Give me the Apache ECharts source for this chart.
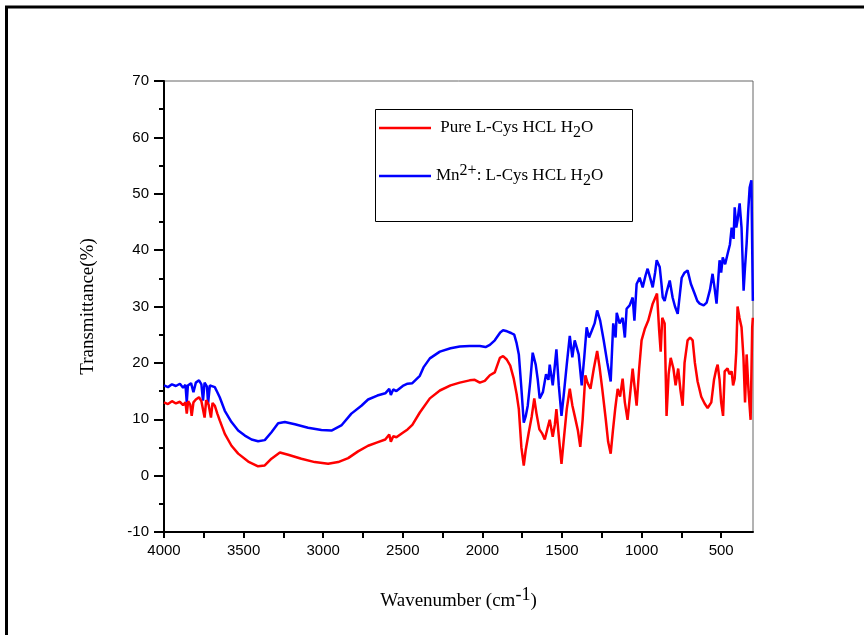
<!DOCTYPE html>
<html>
<head>
<meta charset="utf-8">
<script src="https://cdn.jsdelivr.net/npm/echarts@6/dist/echarts.min.js"></script>
<style>html,body{margin:0;padding:0;background:#fff}#c{width:864px;height:635px}</style>
</head>
<body>
<div id="c"></div>
<script>
// ---- Data ----
const seriesNames = ['Pure L-Cys HCL H2O', 'Mn2+: L-Cys HCL H2O'];
const xLabelValues = [500, 1000, 1500, 2000, 2500, 3000, 3500, 4000];
const xTickValues = [500, 750, 1000, 1250, 1500, 1750, 2000, 2250, 2500, 2750, 3000, 3250, 3500, 3750, 4000];

const wnPure = [4000,3975,3950,3925,3900,3880,3865,3857,3848,3835,3826,3815,3800,3780,3765,3745,3735,3720,3705,3695,3681,3665,3650,3618,3576,3534,3471,3409,3367,3325,3272,3220,3137,3053,2969,2906,2843,2781,2718,2660,2610,2585,2575,2560,2540,2500,2470,2440,2393,2330,2267,2200,2142,2080,2048,2016,1985,1953,1922,1890,1870,1847,1825,1803,1785,1771,1755,1740,1728,1709,1690,1674,1660,1642,1625,1608,1590,1577,1558,1545,1535,1520,1503,1490,1470,1451,1435,1420,1400,1385,1370,1353,1340,1321,1300,1279,1265,1247,1225,1210,1194,1180,1165,1150,1135,1119,1105,1088,1070,1056,1045,1031,1015,1000,980,958,930,903,890,880,870,855,843,830,817,800,786,770,755,742,730,711,695,679,665,648,625,604,585,562,545,530,522,510,500,488,478,460,448,434,425,415,405,397,385,372,360,350,340,328,315,305,301];
const tPure = [13.0,12.7,13.2,12.8,13.1,12.5,13.0,11.0,13.2,12.6,10.6,13.0,13.5,13.9,13.2,10.3,13.4,12.6,10.3,12.9,12.4,11.0,9.8,7.4,5.3,3.9,2.5,1.65,1.8,3.0,4.1,3.7,3.0,2.4,2.1,2.4,3.1,4.3,5.3,5.9,6.4,7.3,6.0,7.0,6.8,7.6,8.2,9.0,11.2,13.7,15.1,16.0,16.5,16.9,17.0,16.5,16.8,17.8,18.3,20.9,21.2,20.6,19.5,17.2,14.5,11.8,5.0,1.8,4.5,7.6,10.5,13.7,11.0,8.2,7.5,6.4,8.5,9.9,6.9,9.0,11.8,7.0,2.1,6.0,11.8,15.4,12.5,10.6,8.0,5.1,10.0,17.8,16.5,15.4,19.0,22.1,19.5,15.4,10.0,6.0,3.9,8.0,12.0,15.4,14.0,17.2,13.0,9.9,15.0,19.0,16.0,12.4,19.0,24.0,26.0,27.5,30.5,32.3,26.0,22.0,28.0,27.0,10.6,18.0,20.9,19.0,16.0,19.0,15.0,12.4,20.0,24.0,24.5,24.0,20.0,16.7,14.0,12.8,12.0,13.0,17.0,19.0,19.7,17.0,13.0,10.6,18.5,19.0,18.0,18.5,16.0,17.2,22.0,30.0,28.0,26.3,21.0,13.0,21.5,15.0,9.9,26.3,28.0];

const wnMn = [4000,3975,3950,3925,3900,3880,3865,3857,3850,3830,3815,3800,3780,3765,3755,3745,3730,3723,3712,3700,3681,3665,3650,3618,3576,3534,3492,3450,3409,3367,3325,3283,3241,3178,3095,3011,2948,2886,2823,2760,2718,2660,2610,2585,2575,2560,2540,2500,2470,2440,2393,2370,2330,2267,2200,2142,2080,2016,1980,1953,1922,1888,1870,1845,1820,1800,1785,1771,1755,1740,1728,1715,1700,1684,1665,1652,1640,1620,1600,1585,1577,1558,1545,1535,1520,1503,1490,1470,1451,1435,1420,1395,1376,1360,1345,1330,1313,1295,1279,1260,1238,1215,1194,1178,1163,1156,1138,1119,1105,1094,1075,1056,1045,1031,1012,993,975,962,945,930,915,905,886,875,867,855,843,823,805,790,773,760,748,730,711,690,667,650,635,610,591,570,554,540,529,518,510,500,490,475,459,445,434,422,415,405,397,384,372,359,350,340,330,321,310,304,301];
const tMn = [16.0,15.7,16.2,15.9,16.3,15.6,16.1,13.0,16.0,16.4,14.8,16.5,16.9,16.2,13.3,16.5,15.8,12.8,16.0,15.9,15.7,14.8,13.9,11.5,9.5,8.0,7.1,6.4,6.1,6.3,7.7,9.3,9.5,9.1,8.5,8.1,8.0,8.9,11.0,12.4,13.5,14.2,14.6,15.4,14.3,15.3,15.0,15.9,16.3,16.4,17.7,19.2,20.8,22.0,22.6,22.9,23.0,23.0,22.8,23.2,24.0,25.4,25.8,25.6,25.3,25.0,23.5,21.5,15.5,9.4,10.5,12.4,16.5,21.8,19.7,17.0,13.7,14.8,18.0,17.0,19.7,16.0,19.5,22.4,16.0,10.6,14.0,19.7,24.8,21.0,24.0,21.5,16.0,21.0,26.3,24.5,25.7,27.0,29.3,27.5,24.0,20.0,16.7,27.0,24.5,28.9,27.0,28.0,24.5,29.6,30.2,31.6,27.5,34.0,35.1,33.4,35.5,36.7,35.0,33.4,36.0,38.2,37.0,34.0,31.6,31.0,32.5,34.6,31.6,30.0,28.7,32.0,35.1,36.0,36.4,34.0,32.3,31.0,30.5,30.2,30.7,33.0,35.8,33.0,30.5,35.0,38.2,36.0,38.7,37.5,39.4,41.0,44.0,42.0,47.6,44.0,45.3,48.3,44.0,32.8,37.0,41.2,47.0,51.1,52.4,52.5,31.0];

const toPairs = (xs, ys) => xs.map((x, i) => [x, ys[i]]);

const serif = '"Liberation Serif","Times New Roman",serif';
const sans = '"Liberation Sans",Arial,sans-serif';

const chart = echarts.init(document.getElementById('c'), null, {renderer: 'canvas'});

const legendRich = {
  n: {fontFamily: serif, fontSize: 17, color: '#000', lineHeight: 20},
  sub: {fontFamily: serif, fontSize: 16, color: '#000', lineHeight: 16, padding: [10, 0, 0, 0]},
  sup: {fontFamily: serif, fontSize: 16, color: '#000', lineHeight: 16, padding: [0, 0, 10, 0]}
};

chart.setOption({
  animation: false,
  backgroundColor: '#fff',
  grid: {left: 164, top: 81, width: 589, height: 451, show: true, borderColor: '#666', borderWidth: 1, containLabel: false},
  legend: {
    show: true,
    left: 374, top: 110,
    orient: 'vertical',
    icon: 'rect',
    itemWidth: 52, itemHeight: 2.5, itemGap: 22,
    data: seriesNames,
    formatter: function (name) {
      if (name === seriesNames[0]) return '{n| Pure L-Cys HCL H}{sub|2}{n|O}';
      return '{n|Mn}{sup|2+}{n|: L-Cys HCL H}{sub|2}{n|O}';
    },
    textStyle: {rich: legendRich}
  },
  xAxis: {
    type: 'value', inverse: true, min: 300, max: 4000,
    axisLine: {show: true, onZero: false, lineStyle: {color: '#000', width: 2}},
    splitLine: {show: false},
    axisTick: {show: true, inside: false, length: 6, lineStyle: {color: '#000', width: 2}, customValues: xTickValues},
    axisLabel: {show: true, color: '#000', fontFamily: sans, fontSize: 15, margin: 11, customValues: xLabelValues,
      formatter: function (v) { return String(v); }},
    name: '{t|Wavenumber (cm}{sup|-1}{t|)}',
    nameLocation: 'middle', nameGap: 58,
    nameTextStyle: {rich: {
      t: {fontFamily: serif, fontSize: 19, color: '#000', lineHeight: 22},
      sup: {fontFamily: serif, fontSize: 18, color: '#000', lineHeight: 18, padding: [0, 0, 12, 0]}
    }},
    z: 5
  },
  yAxis: {
    type: 'value', min: -10, max: 70, interval: 10,
    axisLine: {show: true, onZero: false, lineStyle: {color: '#000', width: 2}},
    splitLine: {show: false},
    axisTick: {show: true, inside: false, length: 10, lineStyle: {color: '#000', width: 2}},
    minorTick: {show: true, splitNumber: 2, length: 5, lineStyle: {color: '#000', width: 2}},
    axisLabel: {color: '#000', fontFamily: sans, fontSize: 15, margin: 15},
    name: 'Transmittance(%)',
    nameLocation: 'middle', nameGap: 66, nameRotate: 90,
    nameTextStyle: {fontFamily: serif, fontSize: 19, color: '#000'}
  },
  series: [{
    name: seriesNames[0], type: 'line', data: toPairs(wnPure, tPure),
    showSymbol: false, symbol: 'none', lineStyle: {color: '#ff0000', width: 2.5}, itemStyle: {color: '#ff0000'}, z: 3
  }, {
    name: seriesNames[1], type: 'line', data: toPairs(wnMn, tMn),
    showSymbol: false, symbol: 'none', lineStyle: {color: '#0000ff', width: 2.5}, itemStyle: {color: '#0000ff'}, z: 2
  }],
  graphic: [
    {type: 'rect', shape: {x: 6.5, y: 7, width: 1000, height: 800}, style: {fill: 'none', stroke: '#000', lineWidth: 3}, silent: true},
    {type: 'rect', shape: {x: 375.5, y: 109.5, width: 257, height: 112}, style: {fill: 'none', stroke: '#000', lineWidth: 1}, silent: true, z: 1}
  ]
});
</script>
</body>
</html>
